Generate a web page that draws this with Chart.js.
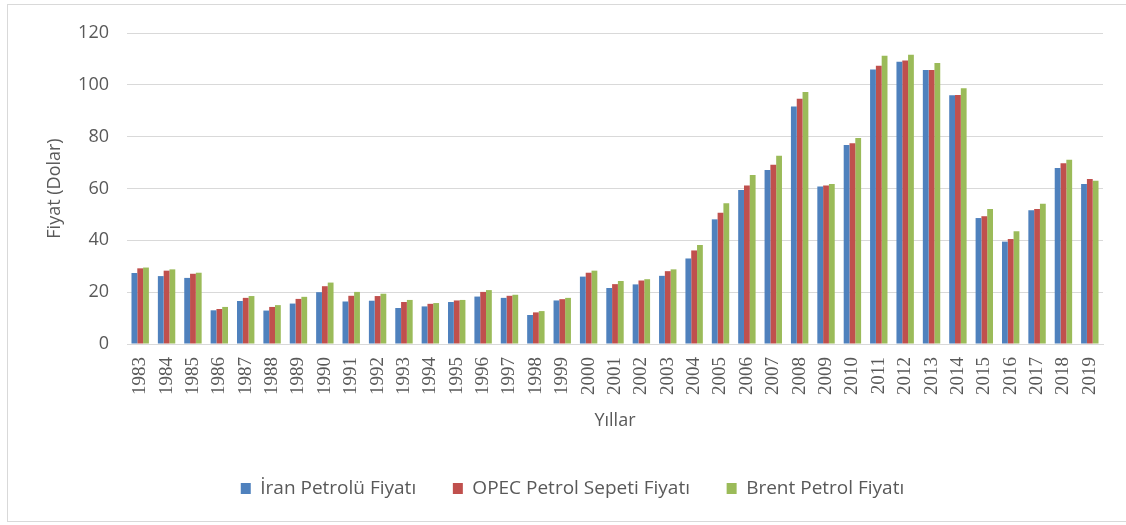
<!DOCTYPE html>
<html>
<head>
<meta charset="utf-8">
<script src="https://cdn.jsdelivr.net/npm/chart.js@4/dist/chart.umd.min.js"></script>
<style>
    html, body { margin: 0; padding: 0; background: #fff; }
    #wrap { position: relative; width: 1126px; height: 525px; overflow: hidden; }
    #frame {
        position: absolute; left: 7px; top: 4px; width: 1130px; height: 518px;
        border: 1px solid #d9d9d9; box-sizing: border-box;
    }
    #oilChart { position: absolute; left: 0; top: 0; }
</style>
</head>
<body>
<div id="wrap">
    <div id="frame"></div>
    <canvas id="oilChart" width="1126" height="525"></canvas>
</div>
<script>
const years = ['1983', '1984', '1985', '1986', '1987', '1988', '1989', '1990', '1991', '1992',
    '1993', '1994', '1995', '1996', '1997', '1998', '1999', '2000', '2001', '2002',
    '2003', '2004', '2005', '2006', '2007', '2008', '2009', '2010', '2011', '2012',
    '2013', '2014', '2015', '2016', '2017', '2018', '2019'];

const iranPrices = [27.4, 26.2, 25.5, 13.0, 16.6, 12.9, 15.6, 20.0, 16.4, 16.7,
    13.9, 14.5, 16.2, 18.3, 17.8, 11.2, 16.8, 26.0, 21.6, 23.0,
    26.3, 33.0, 48.1, 59.4, 67.1, 91.6, 60.8, 76.8, 105.9, 108.9,
    105.7, 96.0, 48.6, 39.5, 51.6, 67.9, 61.7];

const opecPrices = [29.2, 28.3, 27.1, 13.5, 17.8, 14.3, 17.4, 22.3, 18.6, 18.5,
    16.2, 15.5, 16.8, 20.1, 18.6, 12.2, 17.3, 27.5, 23.1, 24.5,
    28.1, 36.1, 50.6, 61.2, 69.2, 94.6, 61.2, 77.5, 107.4, 109.4,
    105.7, 96.1, 49.3, 40.5, 52.1, 69.7, 63.7];

const brentPrices = [29.5, 28.8, 27.5, 14.3, 18.5, 15.0, 18.2, 23.7, 20.1, 19.4,
    17.0, 15.8, 17.0, 20.8, 19.0, 12.7, 17.8, 28.3, 24.3, 25.0,
    28.8, 38.2, 54.3, 65.2, 72.6, 97.2, 61.7, 79.5, 111.2, 111.6,
    108.4, 98.7, 52.1, 43.5, 54.1, 71.1, 63.0];

const seriesNames = ['İran Petrolü Fiyatı', 'OPEC Petrol Sepeti Fiyatı', 'Brent Petrol Fiyatı'];
const yTicks = [0, 20, 40, 60, 80, 100, 120];

const textColor = '#595959';
const gridColor = '#d9d9d9';
const sans = "'Open Sans', 'Noto Sans', sans-serif";

const ctx = document.getElementById('oilChart').getContext('2d');
new Chart(ctx, {
    type: 'bar',
    data: {
        labels: years,
        datasets: [
            { label: seriesNames[0], data: iranPrices, backgroundColor: '#4f81bd' },
            { label: seriesNames[1], data: opecPrices, backgroundColor: '#c0504d' },
            { label: seriesNames[2], data: brentPrices, backgroundColor: '#9bbb59' }
        ]
    },
    options: {
        responsive: false,
        animation: false,
        datasets: {
            bar: { categoryPercentage: 0.66, barPercentage: 1.0, borderWidth: 0 }
        },
        // left padding shifts the centred legend to where excel put it
        layout: { padding: { left: 42, right: 23, top: 33, bottom: 17 } },
        plugins: {
            tooltip: { enabled: false },
            legend: {
                position: 'bottom',
                labels: {
                    color: textColor,
                    font: { family: sans, size: 19 },
                    boxWidth: 10,
                    boxHeight: 11,
                    padding: 12,
                    generateLabels: function(chart) {
                        const items = Chart.defaults.plugins.legend.labels.generateLabels(chart);
                        // excel leaves wide gaps between legend entries
                        items.forEach((it, i) => {
                            if (i < items.length - 1) it.text = it.text + '     ';
                        });
                        return items;
                    }
                }
            }
        },
        scales: {
            x: {
                grid: { display: false, drawTicks: false },
                border: { color: gridColor, width: 1 },
                ticks: {
                    color: textColor,
                    font: { family: "Liberation Serif, 'Times New Roman', serif", size: 19 },
                    minRotation: 90,
                    maxRotation: 90,
                    autoSkip: false,
                    padding: 13
                },
                title: {
                    display: true,
                    text: 'Yıllar',
                    color: textColor,
                    font: { family: sans, size: 18 },
                    padding: { top: 0, bottom: 35 }
                },
                afterFit: function(scale) { scale.height = 123; }
            },
            y: {
                min: 0,
                max: 120,
                afterBuildTicks: function(scale) {
                    scale.ticks = yTicks.map(v => ({ value: v }));
                },
                grid: { color: gridColor, lineWidth: 1, drawTicks: false },
                border: { display: false },
                ticks: {
                    color: textColor,
                    font: { family: sans, size: 18 },
                    padding: 18
                },
                title: {
                    display: true,
                    text: 'Fiyat (Dolar)',
                    color: textColor,
                    font: { family: sans, size: 18 },
                    padding: { top: 2, bottom: 0 }
                },
                afterFit: function(scale) { scale.width = 85; }
            }
        }
    }
});
</script>
</body>
</html>
